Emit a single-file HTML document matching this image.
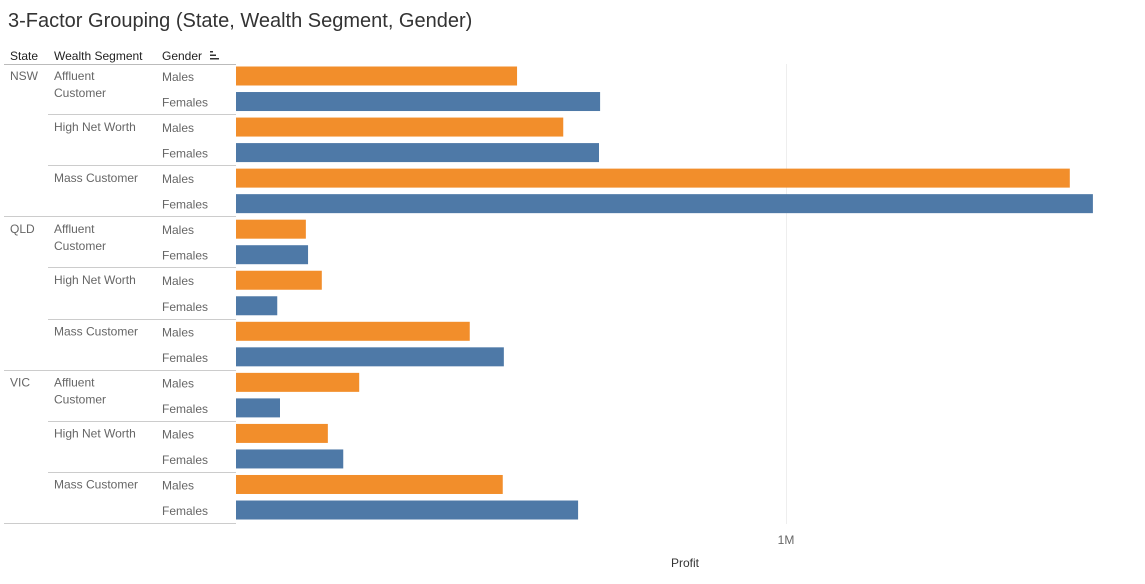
<!DOCTYPE html>
<html><head><meta charset="utf-8"><style>
body{margin:0;background:#fff;font-family:"Liberation Sans",sans-serif;}
svg{display:block}
text{font-family:"Liberation Sans",sans-serif}
</style></head><body>
<svg id="chart" width="1145" height="584">
<text x="8" y="27" font-size="20" fill="#333">3-Factor Grouping (State, Wealth Segment, Gender)</text>
<text x="10" y="60" font-size="12" fill="#222">State</text>
<text x="54" y="60" font-size="12" fill="#222">Wealth Segment</text>
<text x="162" y="60" font-size="12" fill="#222">Gender</text>
<g fill="#333"><rect x="210" y="51" width="3" height="1.5"/><rect x="210" y="54.5" width="6" height="1.5"/><rect x="210" y="58" width="9" height="1.5"/></g>
<line x1="4" y1="64.5" x2="236" y2="64.5" stroke="#bbb"/>
<line x1="786.5" y1="64" x2="786.5" y2="524" stroke="#eee"/>
<g id="rows"></g><g id="bars"></g>
<text x="786" y="544" font-size="12" fill="#666" text-anchor="middle">1M</text>
<text x="685" y="567" font-size="12" fill="#333" text-anchor="middle">Profit</text>
</svg>
<script>
const states=["NSW","QLD","VIC"];
const segments=["Affluent Customer","High Net Worth","Mass Customer"];
const genders=["Males","Females"];
const profitValues=[0.511,0.662,0.595,0.660,1.516,1.558,0.127,0.131,0.156,0.075,0.425,0.487,0.224,0.080,0.167,0.195,0.485,0.622];
const NS="http://www.w3.org/2000/svg";
const x0=236, pxPerM=550, y0=76, pitch=25.53, bh=19;
const xs=v=>x0+v*pxPerM;
const yc=i=>y0+i*pitch;
const rows=document.getElementById('rows'),bars=document.getElementById('bars');
function mk(tag,attrs,p){const e=document.createElementNS(NS,tag);for(const k in attrs)e.setAttribute(k,attrs[k]);p.appendChild(e);return e;}
let i=0;
states.forEach((s,si)=>{
  const t=mk('text',{x:10,y:yc(i)+4,'font-size':12,fill:'#666'},rows);t.textContent=s;
  
  
  segments.forEach((g,gi)=>{
    const words=g==="Affluent Customer"?["Affluent","Customer"]:[g];
    words.forEach((w,wi)=>{const tt=mk('text',{x:54,y:yc(i)+4+wi*17,'font-size':12,fill:'#666'},rows);tt.textContent=w;
      
      });
    genders.forEach((gd,di)=>{
      const gt=mk('text',{x:162,y:yc(i)+5,'font-size':12,fill:'#666'},rows);gt.textContent=gd;
      
      
      const v=profitValues[i];
      const r=mk('rect',{x:x0,y:yc(i)-bh/2,width:xs(v)-x0,height:bh,fill:di===0?'#f28e2b':'#4e79a7'},bars);
      
      
      i++;
    });
    const ly=Math.round(yc(i)-pitch/2)+0.5;
    const last=gi===segments.length-1;
    const l=mk('line',{x1:last?4:48,y1:ly,x2:236,y2:ly,stroke:'#ccc'},rows);
    
    
  });
});
</script>
</body></html>
